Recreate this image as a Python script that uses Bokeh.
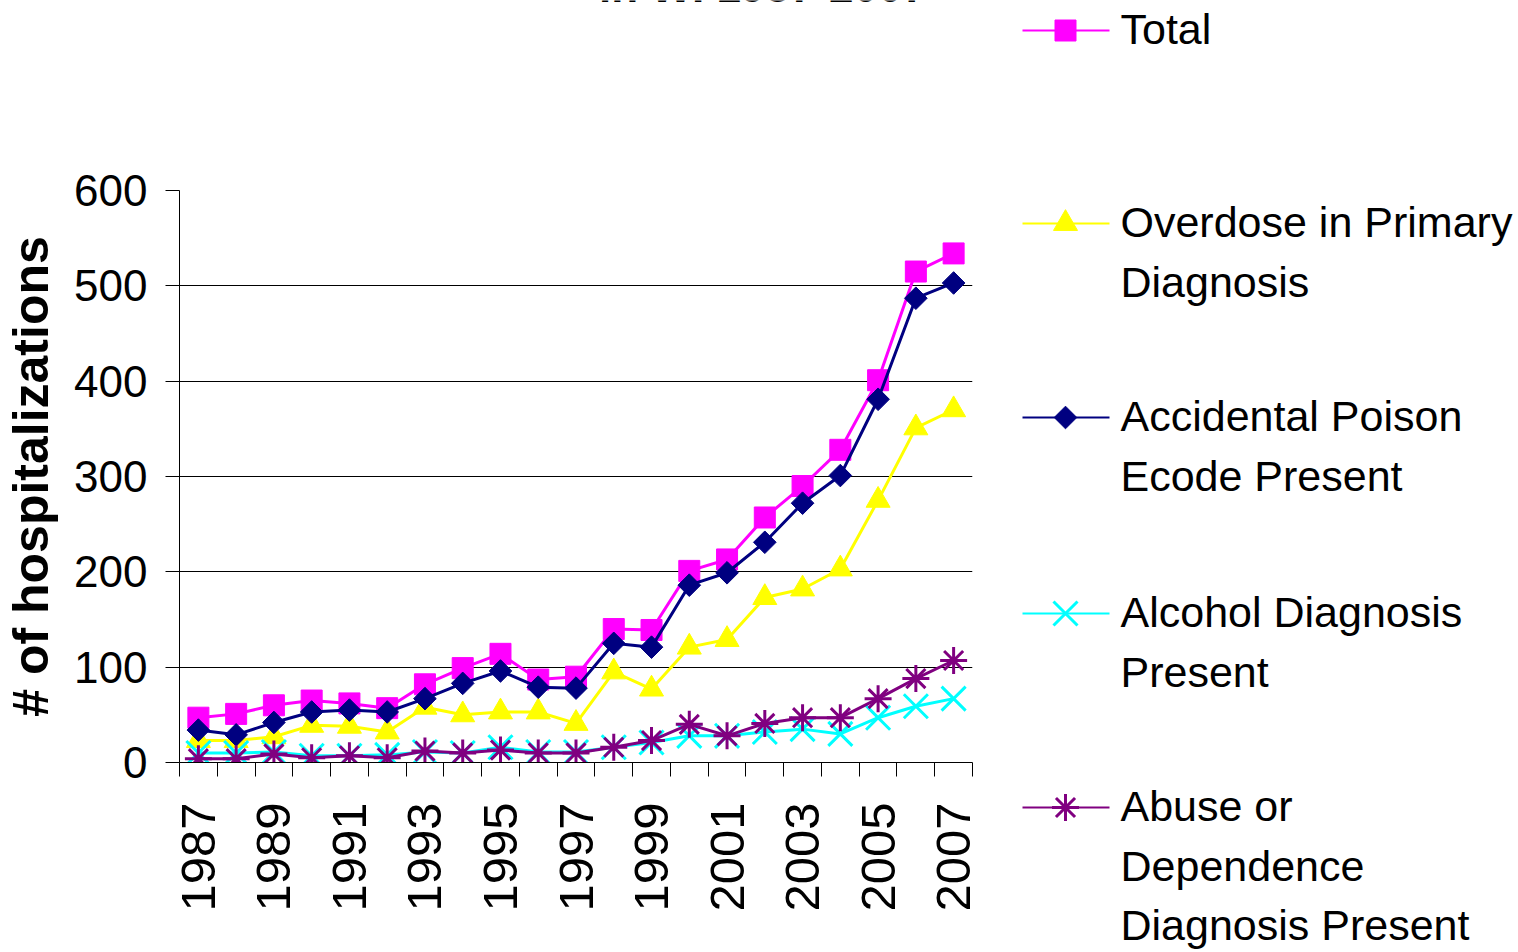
import numpy as np
from bokeh.plotting import figure
from bokeh.models import FixedTicker
from bokeh.layouts import row, column
from bokeh.embed import file_html
from bokeh.resources import INLINE
from bokeh.core.properties import value

# ---- data ----
years = list(range(1987, 2008))
total = [47, 51, 60, 65, 62, 57, 82, 99, 114, 87, 90, 140, 139, 201, 213, 257, 290, 328, 401, 515, 534]
overdose = [23, 23, 27, 39, 38, 32, 58, 50, 53, 53, 41, 95, 77, 121, 129, 173, 182, 203, 275, 351, 370]
accidental = [34, 29, 42, 53, 55, 53, 67, 83, 96, 79, 78, 125, 121, 186, 199, 231, 272, 301, 381, 487, 503]
alcohol = [10, 10, 11, 7, 7, 8, 11, 10, 16, 11, 11, 16, 21, 28, 28, 32, 35, 30, 47, 59, 67]
abuse = [4, 4, 9, 5, 7, 5, 12, 10, 13, 10, 10, 16, 23, 40, 28, 41, 47, 47, 67, 88, 107]
y_ticks = [0, 100, 200, 300, 400, 500, 600]
x_label_years = years[::2]
title_text = "in WI 1987-2007"

series_labels = [
    ["Total"],
    ["Overdose in Primary", "Diagnosis"],
    ["Accidental Poison", "Ecode Present"],
    ["Alcohol Diagnosis", "Present"],
    ["Abuse or", "Dependence", "Diagnosis Present"],
]
series_values = [total, overdose, accidental, alcohol, abuse]

# styles: colour, marker, size, angle, marker line width
styles = [
    ("#FF00FF", "square", 21, 0.0, 1.0),
    ("#FFFF00", "triangle", 24, 0.0, 1.0),
    ("#000080", "square", 16, np.pi / 4, 1.0),
    ("#00FFFF", "x", 34, 0.0, 3.0),
    ("#800080", "asterisk", 27, 0.0, 3.0),
]

FONT = "Liberation Sans"
STRIP_H = 60

# ---------------- main chart ----------------
p = figure(
    width=1010, height=952 - STRIP_H,
    frame_width=793, frame_height=572,
    x_range=(1986.5, 2007.5), y_range=(0, 600),
    output_backend="svg", toolbar_location=None,
    min_border_left=177, min_border_right=40,
    min_border_top=190 - STRIP_H, min_border_bottom=190,
    background_fill_color="white", border_fill_color="white",
)
p.outline_line_color = None

p.xgrid.grid_line_color = None
p.ygrid.ticker = FixedTicker(ticks=y_ticks)
p.ygrid.grid_line_color = "#000000"
p.ygrid.grid_line_width = 1

p.yaxis.ticker = FixedTicker(ticks=y_ticks)
p.yaxis.axis_line_color = "black"
p.yaxis.major_tick_line_color = "black"
p.yaxis.major_tick_out = 14
p.yaxis.major_tick_in = 0
p.yaxis.minor_tick_line_color = None
p.yaxis.major_label_text_font = FONT
p.yaxis.major_label_text_font_size = "44px"
p.yaxis.major_label_text_color = "black"
p.yaxis.major_label_standoff = 18
p.yaxis.axis_label = "# of hospitalizations"
p.yaxis.axis_label_text_font = FONT
p.yaxis.axis_label_text_font_style = "bold"
p.yaxis.axis_label_text_font_size = "50px"
p.yaxis.axis_label_text_color = "black"
p.yaxis.axis_label_standoff = 12

bounds = [y - 0.5 for y in years] + [years[-1] + 0.5]
p.xaxis.ticker = FixedTicker(ticks=x_label_years, minor_ticks=bounds)
p.xaxis.axis_line_color = "black"
p.xaxis.major_tick_out = 0
p.xaxis.major_tick_in = 0
p.xaxis.minor_tick_out = 14
p.xaxis.minor_tick_in = 0
p.xaxis.minor_tick_line_color = "black"
p.xaxis.major_label_orientation = np.pi / 2
p.xaxis.major_label_text_font = FONT
p.xaxis.major_label_text_font_size = "49px"
p.xaxis.major_label_text_color = "black"
p.xaxis.major_label_standoff = 26

for vals, (color, marker, size, angle, mlw) in zip(series_values, styles):
    p.line(years, vals, line_color=color, line_width=3)
    p.scatter(years, vals, marker=marker, size=size, angle=angle,
              fill_color=color, line_color=color, line_width=mlw)

# ---------------- title strip (title is cut off at the top) ----------------
tp = figure(
    width=1010, height=STRIP_H, x_range=(0, 1010), y_range=(STRIP_H, 0),
    output_backend="svg", toolbar_location=None,
    x_axis_location=None, y_axis_location=None, min_border=0,
    background_fill_color="white", border_fill_color="white",
)
tp.outline_line_color = None
tp.grid.grid_line_color = None
tp.text(x=[745], y=[2.0], text=[title_text], text_align="center",
        text_baseline="alphabetic", y_offset=-16, text_font=value(FONT),
        text_font_style="bold", text_font_size="44px", text_color="black")

# ---------------- legend panel ----------------
lg = figure(
    width=508, height=952, x_range=(1010, 1518), y_range=(952, 0),
    output_backend="svg", toolbar_location=None,
    x_axis_location=None, y_axis_location=None, min_border=0,
    background_fill_color="white", border_fill_color="white",
)
lg.outline_line_color = None
lg.grid.grid_line_color = None

entry_y = [30, 223, 417, 613, 807]
line_pitch = 59.7
for yc, lines, (color, marker, size, angle, mlw) in zip(entry_y, series_labels, styles):
    lg.segment(x0=[1020], y0=[yc], x1=[1107], y1=[yc], line_color=color, line_width=2)
    lg.scatter([1063], [yc], marker=marker, size=size, angle=angle,
               fill_color=color, line_color=color, line_width=mlw)
    lg.text(x=[1118] * len(lines), y=[yc - 1.5 + j * line_pitch for j in range(len(lines))],
            text=lines, text_align="left", text_baseline="middle",
            text_font=value(FONT), text_font_size="43px", text_color="black")

layout = row(column(tp, p), lg)

open("out.html", "w").write(file_html(layout, INLINE))
